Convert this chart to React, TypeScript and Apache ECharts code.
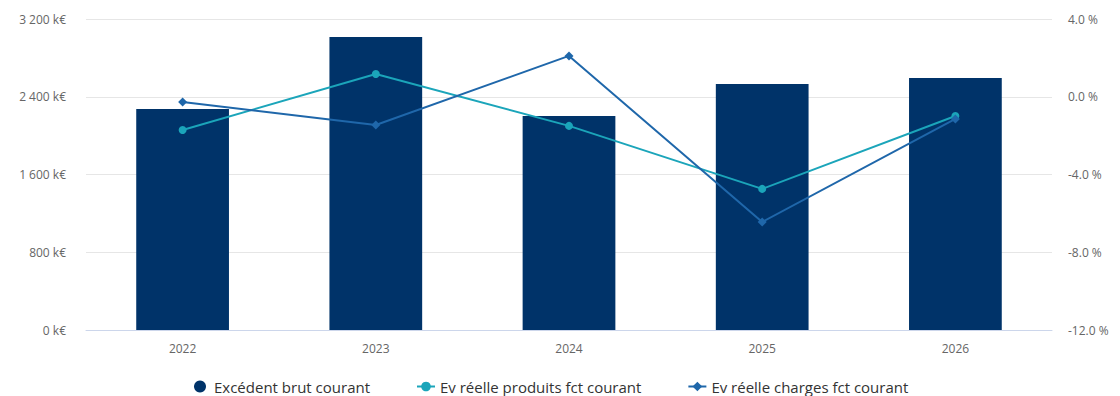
import React, { useEffect, useRef } from "react";
import * as echarts from "echarts";

const years = ["2022", "2023", "2024", "2025", "2026"];
const excedent = [2274, 3015, 2202, 2531, 2593];
const evProduits = [-1.71, 1.17, -1.5, -4.74, -0.99];
const evCharges = [-0.27, -1.45, 2.1, -6.44, -1.14];

const fmtK = (v: number) => {
  const s = String(Math.round(v)).replace(/\B(?=(\d{3})+(?!\d))/g, " ");
  return s + " k€";
};

export default function App() {
  const ref = useRef<HTMLDivElement>(null);
  useEffect(() => {
    document.body.style.margin = "0";
    const chart = echarts.init(ref.current!, undefined, { renderer: "svg" });
    const font = "'Open Sans', sans-serif";
    chart.setOption({
      animation: false,
      textStyle: { fontFamily: font },
      grid: { left: 86, right: 68, top: 19, bottom: 66, containLabel: false },
      legend: {
        left: 189,
        top: 374,
        itemGap: 46,
        itemWidth: 18,
        itemHeight: 12,
        textStyle: { color: "#333", fontSize: 15, fontFamily: font },
        data: [
          { name: "Excédent brut courant", icon: "circle" },
          { name: "Ev réelle produits fct courant" },
          { name: "Ev réelle charges fct courant" },
        ],
      },
      xAxis: {
        type: "category",
        data: years,
        axisLine: { lineStyle: { color: "#ccd6eb" } },
        axisTick: { show: false },
        axisLabel: { color: "#666", fontSize: 12, margin: 12 },
      },
      yAxis: [
        {
          type: "value",
          min: 0,
          max: 3200,
          interval: 800,
          axisLabel: { color: "#666", fontSize: 12, formatter: fmtK, margin: 20 },
          splitLine: { lineStyle: { color: "#e6e6e6" } },
          axisLine: { show: false },
          axisTick: { show: false },
        },
        {
          type: "value",
          min: -12,
          max: 4,
          interval: 4,
          axisLabel: {
            color: "#666",
            fontSize: 12,
            margin: 16,
            formatter: (v: number) => v.toFixed(1) + " %",
          },
          splitLine: { show: false },
          axisLine: { show: false },
          axisTick: { show: false },
        },
      ],
      series: [
        {
          name: "Excédent brut courant",
          type: "bar",
          data: excedent,
          barWidth: "48%",
          itemStyle: { color: "#003369" },
        },
        {
          name: "Ev réelle produits fct courant",
          type: "line",
          yAxisIndex: 1,
          data: evProduits,
          symbol: "circle",
          symbolSize: 8,
          lineStyle: { color: "#1ba5ba", width: 2 },
          itemStyle: { color: "#1ba5ba" },
        },
        {
          name: "Ev réelle charges fct courant",
          type: "line",
          yAxisIndex: 1,
          data: evCharges,
          symbol: "diamond",
          symbolSize: 9,
          lineStyle: { color: "#1f67aa", width: 2 },
          itemStyle: { color: "#1f67aa" },
        },
      ],
    });
    return () => chart.dispose();
  }, []);
  return <div ref={ref} style={{ width: 1120, height: 396 }} />;
}
